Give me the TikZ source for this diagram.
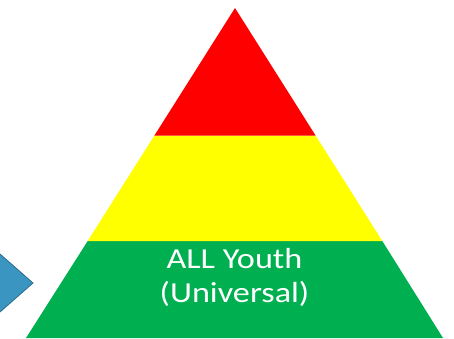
\documentclass[tikz,border=0pt]{standalone}
\usepackage{fontspec}
\setmainfont{Carlito}
\definecolor{tierred}{RGB}{255,0,0}
\definecolor{tieryellow}{RGB}{255,255,0}
\definecolor{tiergreen}{RGB}{0,176,80}
\definecolor{arrowblue}{RGB}{58,150,192}
\definecolor{arrowline}{RGB}{45,108,140}
\begin{document}
\begin{tikzpicture}[x=1pt,y=-1pt]
\useasboundingbox (0,0) rectangle (454,338);
\clip (0,0) rectangle (454,338);
\fill[tiergreen] (87.7,241) -- (382.3,241) -- (443,338) -- (26,338) -- cycle;
\fill[tieryellow] (154.3,135.7) -- (315.7,135.7) -- (382.3,241) -- (87.7,241) -- cycle;
\fill[tierred] (235,8) -- (315.7,135.7) -- (154.3,135.7) -- cycle;
\draw[arrowline,fill=arrowblue,line width=0.8pt] (-40,254) -- (0,254) -- (33,283) -- (0,312) -- (-40,312) -- cycle;
\node[text=white,inner sep=0pt] (universal) at (234.5,279)
  {\scalebox{1.18}[1]{\fontsize{29}{34}\selectfont\begin{tabular}{@{}c@{}}ALL Youth\\(Universal)\end{tabular}}};
\end{tikzpicture}
\end{document}
